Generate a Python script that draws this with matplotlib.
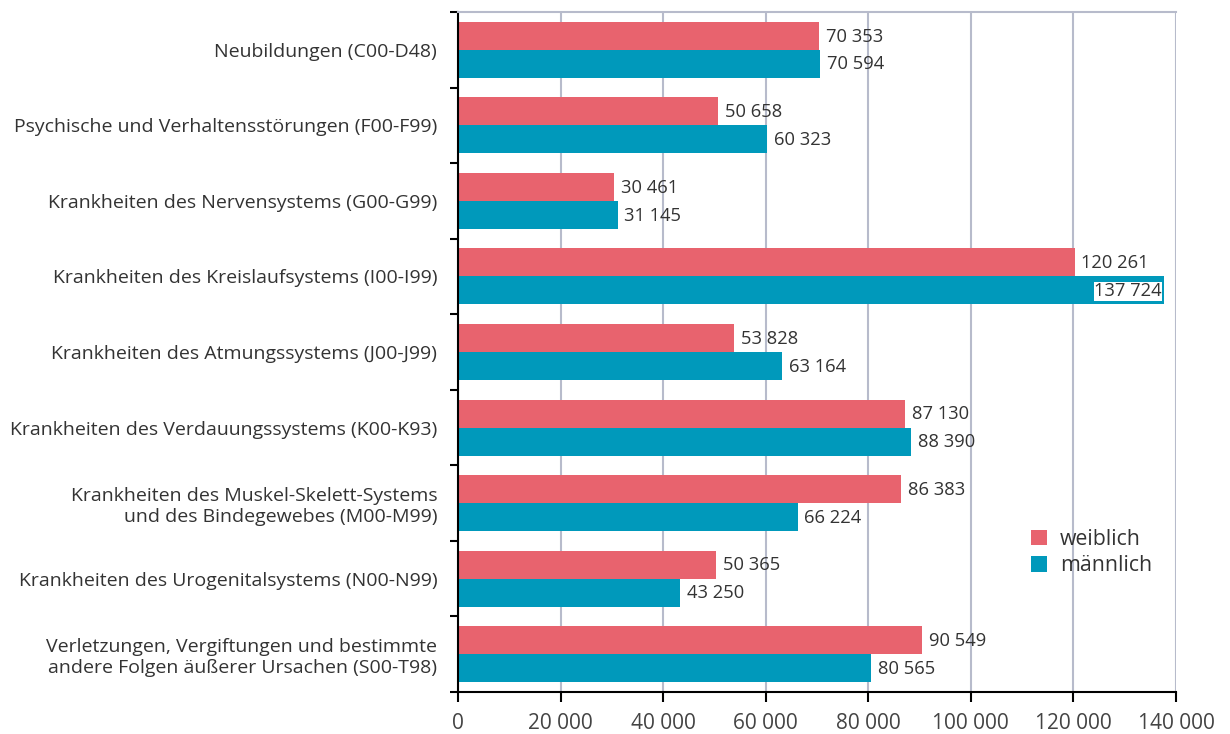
import matplotlib
matplotlib.use("Agg")
import matplotlib.pyplot as plt
from matplotlib.patches import Patch
import numpy as np

plt.rcParams['font.family'] = ['Open Sans', 'DejaVu Sans']

categories = [
    "Neubildungen (C00-D48)",
    "Psychische und Verhaltensstörungen (F00-F99)",
    "Krankheiten des Nervensystems (G00-G99)",
    "Krankheiten des Kreislaufsystems (I00-I99)",
    "Krankheiten des Atmungssystems (J00-J99)",
    "Krankheiten des Verdauungssystems (K00-K93)",
    "Krankheiten des Muskel-Skelett-Systems\nund des Bindegewebes (M00-M99)",
    "Krankheiten des Urogenitalsystems (N00-N99)",
    "Verletzungen, Vergiftungen und bestimmte\nandere Folgen äußerer Ursachen (S00-T98)",
]
weiblich = [70353, 50658, 30461, 120261, 53828, 87130, 86383, 50365, 90549]
maennlich = [70594, 60323, 31145, 137724, 63164, 88390, 66224, 43250, 80565]
xticks = [0, 20000, 40000, 60000, 80000, 100000, 120000, 140000]

pink = "#E8636E"
blue = "#0099BB"
grid_c = "#B7BBCB"
txt_c = "#333333"


def fmt(v):
    return "{:,}".format(v).replace(",", " ")


fig = plt.figure(figsize=(12.3, 7.34), dpi=100)
ax = fig.add_axes([0.3724, 0.0572, 0.9561 - 0.3724, 0.9837 - 0.0572])

y = np.arange(len(categories))
h = 0.37
off = 0.185
ax.barh(y - off, weiblich, height=h, color=pink, zorder=2)
ax.barh(y + off, maennlich, height=h, color=blue, zorder=2)

for i, (w, m) in enumerate(zip(weiblich, maennlich)):
    ax.text(w + 1300, i - off + 0.01, fmt(w), va="center", ha="left", fontsize=13.2, color=txt_c)
    if m > 130000:
        ax.text(m - 500, i + off + 0.01, fmt(m), va="center", ha="right", fontsize=13.2, color=txt_c,
                bbox=dict(facecolor="white", edgecolor="none", pad=0.3))
    else:
        ax.text(m + 1300, i + off + 0.01, fmt(m), va="center", ha="left", fontsize=13.2, color=txt_c)

ax.set_xlim(0, 140000)
ax.set_ylim(len(categories) - 0.5, -0.5)
ax.set_xticks(xticks)
ax.set_xticklabels([fmt(v) for v in xticks], fontsize=15, color="#444444")
ax.set_yticks(y)
ax.set_yticklabels(categories, fontsize=14, color=txt_c, linespacing=1.2)
ax.set_yticks(np.arange(len(categories) + 1) - 0.5, minor=True)
ax.tick_params(axis="y", which="major", length=0, pad=15)
ax.tick_params(axis="y", which="minor", length=6, width=1.5, color="black")
ax.tick_params(axis="x", which="major", length=7, width=1.5, color="black", pad=8)

ax.grid(axis="x", color=grid_c, linewidth=1.5, zorder=0)
ax.set_axisbelow(True)
ax.spines["right"].set_visible(False)
ax.spines["top"].set_color(grid_c)
ax.spines["top"].set_linewidth(1.5)
ax.spines["left"].set_linewidth(1.5)
ax.spines["bottom"].set_linewidth(1.5)

handles = [Patch(facecolor=pink, label="weiblich"), Patch(facecolor=blue, label="männlich")]
ax.legend(handles=handles, loc="upper left", bbox_to_anchor=(0.772, 0.268), frameon=False,
          fontsize=15.3, handlelength=0.75, handleheight=0.75, handletextpad=0.6,
          labelspacing=0.25, labelcolor=txt_c)

fig.savefig("out.png", dpi=100)
